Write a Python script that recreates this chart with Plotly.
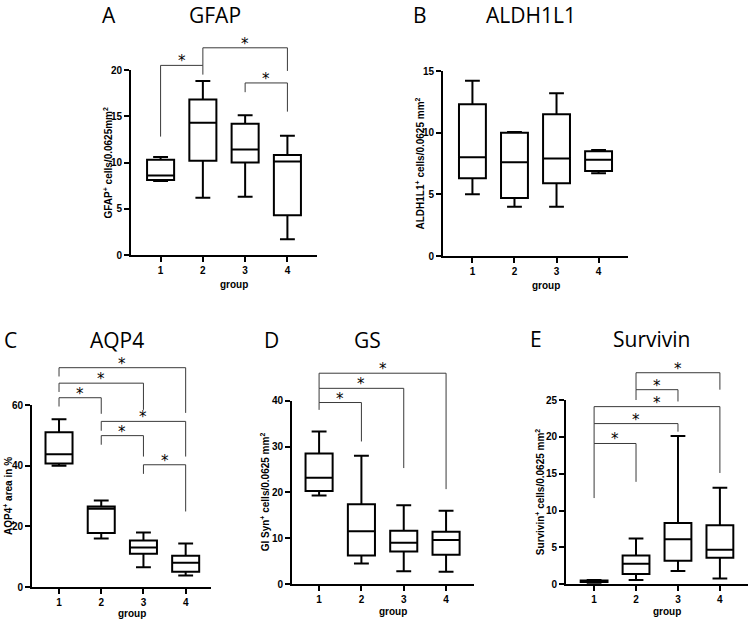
import plotly.graph_objects as go

W, H = 749, 621
groups = [1, 2, 3, 4]
tick_labels = ["1", "2", "3", "4"]

# ---------------- data (box statistics) ----------------
# A  GFAP
gfap_low = [8.0, 6.2, 6.3, 1.7]
gfap_q1 = [8.1, 10.2, 10.0, 4.3]
gfap_med = [8.6, 14.3, 11.4, 10.1]
gfap_q3 = [10.3, 16.8, 14.2, 10.8]
gfap_high = [10.6, 18.8, 15.1, 12.9]
# (left group, right group, bar height, left leg end, right leg end)
gfap_brackets = [(1, 2, 20.5, 12.8, 19.5), (2, 4, 22.4, 20.5, 19.9), (3, 4, 18.6, 17.6, 15.5)]

# B  ALDH1L1
aldh_low = [5.0, 4.0, 4.0, 6.7]
aldh_q1 = [6.3, 4.7, 5.9, 6.9]
aldh_med = [8.0, 7.6, 7.9, 7.8]
aldh_q3 = [12.3, 10.0, 11.5, 8.5]
aldh_high = [14.2, 10.05, 13.2, 8.6]
aldh_brackets = []

# C  AQP4
aqp4_low = [40.0, 16.0, 6.5, 3.8]
aqp4_q1 = [40.7, 17.8, 11.0, 5.0]
aqp4_med = [43.8, 25.8, 13.0, 8.0]
aqp4_q3 = [51.0, 26.5, 15.3, 10.3]
aqp4_high = [55.3, 28.5, 18.0, 14.3]
aqp4_brackets = [(1, 4, 72.3, 69.4, 57.4), (1, 3, 67.2, 64.3, 58.4), (1, 2, 62.4, 59.5, 57.1),
                 (2, 4, 54.6, 51.5, 43.0), (2, 3, 49.9, 46.9, 43.0), (3, 4, 40.3, 37.3, 24.9)]

# D  GS
gs_low = [19.3, 4.5, 2.8, 2.7]
gs_q1 = [20.3, 6.2, 7.1, 6.4]
gs_med = [23.2, 11.5, 9.0, 9.6]
gs_q3 = [28.5, 17.4, 11.6, 11.4]
gs_high = [33.3, 28.0, 17.2, 16.0]
gs_brackets = [(1, 4, 46.0, 42.7, 20.7), (1, 3, 42.7, 39.6, 25.3), (1, 2, 39.6, 38.0, 31.1)]

# E  Survivin
surv_low = [0.2, 0.6, 1.8, 0.8]
surv_q1 = [0.3, 1.4, 3.2, 3.6]
surv_med = [0.4, 2.8, 6.1, 4.7]
surv_q3 = [0.5, 3.9, 8.3, 8.0]
surv_high = [0.6, 6.2, 20.1, 13.1]
surv_brackets = [(2, 4, 28.7, 26.4, 26.4), (2, 3, 26.4, 25.0, 24.8), (1, 4, 24.1, 21.8, 15.1),
                 (1, 3, 21.8, 19.1, 20.7), (1, 2, 19.1, 11.7, 13.9)]

# ---------------- panel layout (pixels) ----------------
panels = [
    dict(letter="A", title="GFAP", ylabel="GFAP<sup>+</sup> cells/0.0625mm<sup>2</sup>",
         stats=(gfap_low, gfap_q1, gfap_med, gfap_q3, gfap_high), brackets=gfap_brackets,
         xpx=(131, 317), ypx=(255, 70), ext_top=20, xr=(0.3, 4.7), ymax=20, dtick=5,
         letter_x=109, title_x=215, title_top=0, ylab_x=107, group_y=284),
    dict(letter="B", title="ALDH1L1", ylabel="ALDH1L1<sup>+</sup> cells/0.0625 mm<sup>2</sup>",
         stats=(aldh_low, aldh_q1, aldh_med, aldh_q3, aldh_high), brackets=aldh_brackets,
         xpx=(443, 628), ypx=(256, 71), ext_top=20, xr=(0.3, 4.7), ymax=15, dtick=5,
         letter_x=420, title_x=531, title_top=0, ylab_x=419, group_y=285),
    dict(letter="C", title="AQP4", ylabel="AQP4<sup>+</sup> area in %",
         stats=(aqp4_low, aqp4_q1, aqp4_med, aqp4_q3, aqp4_high), brackets=aqp4_brackets,
         xpx=(32, 211), ypx=(587, 405), ext_top=350, xr=(0.36, 4.6), ymax=60, dtick=20,
         letter_x=10, title_x=117, title_top=325, ylab_x=8, group_y=613),
    dict(letter="D", title="GS", ylabel="Gl Syn<sup>+</sup> cells/0.0625 mm<sup>2</sup>",
         stats=(gs_low, gs_q1, gs_med, gs_q3, gs_high), brackets=gs_brackets,
         xpx=(292, 474), ypx=(584, 400.7), ext_top=350, xr=(0.36, 4.66), ymax=40, dtick=10,
         letter_x=271, title_x=367, title_top=325, ylab_x=265, group_y=611),
    dict(letter="E", title="Survivin", ylabel="Survivin<sup>+</sup> cells/0.0625 mm<sup>2</sup>",
         stats=(surv_low, surv_q1, surv_med, surv_q3, surv_high), brackets=surv_brackets,
         xpx=(566, 748), ypx=(584.3, 400), ext_top=350, xr=(0.33, 4.67), ymax=25, dtick=5,
         letter_x=536, title_x=651, title_top=324, ylab_x=540, group_y=611),
]

AX_FONT = "Liberation Sans, Arial, sans-serif"
TITLE_FONT = "Open Sans, DejaVu Sans, sans-serif"

fig = go.Figure()
layout = dict(width=W, height=H, margin=dict(l=0, r=0, t=0, b=0, autoexpand=False),
              paper_bgcolor="white", plot_bgcolor="rgba(0,0,0,0)", showlegend=False)
annotations = []

def px2x(p):
    return p / W

def px2y(p):
    return 1 - p / H

for i, p in enumerate(panels):
    n = i + 1
    xa = "x" if n == 1 else f"x{n}"
    ya = "y" if n == 1 else f"y{n}"
    yb = f"y{n + 5}"
    xkey = "xaxis" if n == 1 else f"xaxis{n}"
    ykey = "yaxis" if n == 1 else f"yaxis{n}"
    ybkey = f"yaxis{n + 5}"

    ybot, ytop = p["ypx"]
    layout[xkey] = dict(domain=[px2x(p["xpx"][0]), px2x(p["xpx"][1])], range=list(p["xr"]),
                        anchor=ya, showline=True, linecolor="black", linewidth=2,
                        ticks="outside", ticklen=5, tickwidth=2, tickcolor="black",
                        tickvals=groups, ticktext=tick_labels, showgrid=False, zeroline=False,
                        automargin=False,
                        tickfont=dict(family=AX_FONT, size=10, color="black", weight="bold"))
    layout[ykey] = dict(domain=[px2y(ybot), px2y(ytop)], range=[0, p["ymax"]], anchor=xa,
                        showline=True, linecolor="black", linewidth=2,
                        ticks="outside", ticklen=5, tickwidth=2, tickcolor="black",
                        dtick=p["dtick"], tick0=0, showgrid=False, zeroline=False,
                        automargin=False,
                        tickfont=dict(family=AX_FONT, size=10, color="black", weight="bold"))
    ext_max = p["ymax"] * (ybot - p["ext_top"]) / (ybot - ytop)
    layout[ybkey] = dict(domain=[px2y(ybot), px2y(p["ext_top"])], range=[0, ext_max],
                         anchor=xa, visible=False, showgrid=False, zeroline=False)

    low, q1, med, q3, high = p["stats"]
    fig.add_trace(go.Box(x=groups, q1=q1, median=med, q3=q3, lowerfence=low, upperfence=high,
                         width=0.64, whiskerwidth=0.55, boxpoints=False,
                         line=dict(color="black", width=2), fillcolor="white",
                         xaxis=xa, yaxis=ya, hoverinfo="skip"))

    for (g1, g2, yh, yl1, yl2) in p["brackets"]:
        fig.add_trace(go.Scatter(x=[g1, g1, g2, g2], y=[yl1, yh, yh, yl2], mode="lines",
                                 line=dict(color="#3a3a3a", width=1), xaxis=xa, yaxis=yb,
                                 hoverinfo="skip"))
        annotations.append(dict(x=(g1 + g2) / 2, y=yh, xref=xa, yref=yb, text="*",
                                showarrow=False, yanchor="bottom", yshift=-6, borderpad=0,
                                font=dict(family="DejaVu Sans", size=15, color="black")))

    # titles
    for tx, txt in ((p["letter_x"], p["letter"]), (p["title_x"], p["title"])):
        annotations.append(dict(x=px2x(tx), y=1.0, xref="paper", yref="paper",
                                text=txt, showarrow=False, xanchor="center", yanchor="top",
                                yshift=-p["title_top"], borderpad=0,
                                font=dict(family=TITLE_FONT, size=21, color="black")))
    # axis titles
    annotations.append(dict(x=px2x(p["ylab_x"]), y=px2y((ybot + ytop) / 2), xref="paper", yref="paper",
                            text=p["ylabel"], showarrow=False, textangle=-90,
                            xanchor="center", yanchor="middle",
                            font=dict(family=AX_FONT, size=10, color="black", weight="bold")))
    annotations.append(dict(x=px2x((p["xpx"][0] + p["xpx"][1]) / 2 + 10), y=px2y(p["group_y"]),
                            xref="paper", yref="paper", text="group", showarrow=False,
                            xanchor="center", yanchor="middle",
                            font=dict(family=AX_FONT, size=10, color="black", weight="bold")))

layout["annotations"] = annotations
fig.update_layout(**layout)
fig.write_html("out.html", config={"displayModeBar": False},
               post_script="document.body.style.margin='0px';")
